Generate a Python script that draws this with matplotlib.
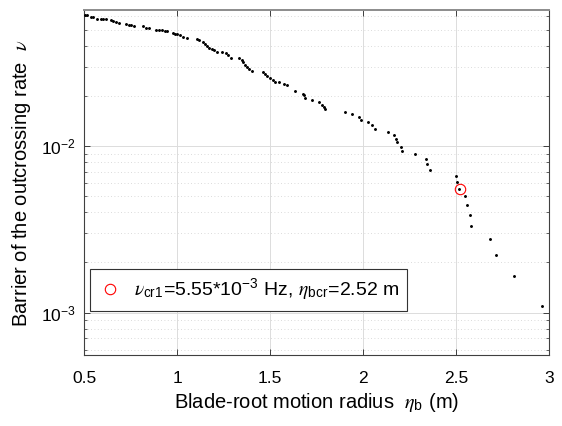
"""Barrier of the outcrossing rate vs. blade-root motion radius."""

import matplotlib
matplotlib.use("Agg")
from matplotlib import pyplot as plt
from matplotlib.ticker import LogLocator, NullFormatter

# blade-root motion radius eta_b (m)
eta_b = [
    0.504, 0.515, 0.538, 0.550, 0.572, 0.590, 0.604, 0.618, 0.645, 0.658,
    0.670, 0.688, 0.726, 0.740, 0.754, 0.767, 0.816, 0.833, 0.849, 0.889,
    0.903, 0.919, 0.934, 0.948, 0.977, 0.989, 1.002, 1.016, 1.032, 1.055,
    1.106, 1.120, 1.138, 1.151, 1.160, 1.174, 1.187, 1.199, 1.217, 1.240,
    1.263, 1.276, 1.289, 1.335, 1.348, 1.356, 1.366, 1.378, 1.389, 1.402,
    1.461, 1.473, 1.485, 1.500, 1.515, 1.528, 1.550, 1.572, 1.590, 1.634,
    1.676, 1.683, 1.690, 1.724, 1.760, 1.778, 1.787, 1.794, 1.901, 1.939,
    1.975, 1.987, 2.024, 2.050, 2.066, 2.136, 2.163, 2.177, 2.181, 2.203,
    2.210, 2.280, 2.337, 2.344, 2.360, 2.500, 2.505, 2.516, 2.545, 2.558,
    2.575, 2.581, 2.679, 2.711, 2.812, 2.962,
]

# outcrossing rate nu
nu = [
    0.0615, 0.0612, 0.0598, 0.0593, 0.0582, 0.0582, 0.0577, 0.0577, 0.0574, 0.0566,
    0.0558, 0.0550, 0.0538, 0.0535, 0.0533, 0.0528, 0.0524, 0.0513, 0.0509, 0.0499,
    0.0495, 0.0495, 0.0493, 0.0493, 0.0479, 0.0473, 0.0469, 0.0464, 0.0450, 0.0445,
    0.0439, 0.0433, 0.0423, 0.0412, 0.0400, 0.0389, 0.0382, 0.0376, 0.0369, 0.0365,
    0.0362, 0.0352, 0.0339, 0.0339, 0.0330, 0.0318, 0.0307, 0.0299, 0.0290, 0.0283,
    0.0277, 0.0270, 0.0264, 0.0257, 0.0249, 0.0243, 0.0241, 0.0236, 0.0232, 0.0215,
    0.0206, 0.0202, 0.0195, 0.0189, 0.0183, 0.0176, 0.0172, 0.0166, 0.0161, 0.0155,
    0.0149, 0.0144, 0.0139, 0.0133, 0.0127, 0.0122, 0.0116, 0.0110, 0.0105, 0.00990,
    0.00937, 0.00892, 0.00832, 0.00776, 0.00718, 0.00663, 0.00610, 0.00555, 0.00499, 0.00442,
    0.00387, 0.00332, 0.00277, 0.00221, 0.00166, 0.00110,
]

# critical point
eta_bcr = 2.52
nu_cr1 = 5.55e-3


def main():
    plt.rcParams.update({
        "font.family": ["Liberation Sans", "DejaVu Sans"],
        "mathtext.fontset": "custom",
        "mathtext.rm": "Liberation Sans",
        "mathtext.it": "STIXGeneral:italic",
        "mathtext.bf": "Liberation Sans:bold",
        "font.size": 12,
    })
    fig = plt.figure(figsize=(5.62, 4.26), dpi=100)
    ax = fig.add_axes([0.1495, 0.1655, 0.8279, 0.811])

    ax.plot(eta_b, nu, linestyle="none", marker="o", ms=1.1, color="black",
            zorder=3)
    ax.plot([eta_bcr], [nu_cr1], linestyle="none", marker="o", ms=7.5,
            mfc="none", mec="red", mew=0.8, zorder=4,
            label=r"$\nu_{\rm cr1}$=5.55*10$^{-3}$ Hz, $\eta_{\rm bcr}$=2.52 m")

    ax.set_yscale("log")
    ax.set_xlim(0.5, 3)
    ax.set_ylim(5.53e-4, 0.0655)
    ax.set_xticks([0.5, 1, 1.5, 2, 2.5, 3], labels=["0.5", "1", "1.5", "2", "2.5", "3"])
    ax.yaxis.set_minor_locator(LogLocator(base=10, subs=range(2, 10), numticks=20))
    ax.yaxis.set_minor_formatter(NullFormatter())

    ax.grid(which="major", color="#dcdcdc", linewidth=0.7)
    ax.grid(which="minor", axis="y", color="#cfcfcf", linewidth=0.6,
            linestyle=(0, (1, 3)))
    ax.set_axisbelow(True)

    ax.tick_params(which="both", direction="in", top=True, right=True,
                   color="#262626", labelsize=12.5)
    ax.tick_params(axis="x", pad=11)
    ax.tick_params(axis="y", pad=6)
    ax.tick_params(which="major", length=4.5, width=0.6)
    ax.tick_params(which="minor", length=2.5, width=0.5)
    for side in ["left", "bottom", "right"]:
        ax.spines[side].set_color("#404040")
        ax.spines[side].set_linewidth(0.8)
    ax.spines["top"].set_color("#8c8c8c")
    ax.spines["top"].set_linewidth(1.4)

    ax.set_xlabel(r"Blade-root motion radius  $\eta_{\rm b}$ (m)", fontsize=14.5,
                  labelpad=4)
    ax.set_ylabel(r"Barrier of the outcrossing rate  $\nu$", fontsize=14.5,
                  labelpad=6)

    leg = ax.legend(loc="lower left", bbox_to_anchor=(0.012, 0.13), fontsize=14,
                    frameon=True, fancybox=False, edgecolor="#333333",
                    framealpha=1, borderpad=0.4, handlelength=1.3,
                    handletextpad=0.6, borderaxespad=0)
    leg.get_frame().set_linewidth(0.8)

    fig.savefig("out.png", dpi=100)


if __name__ == "__main__":
    main()
